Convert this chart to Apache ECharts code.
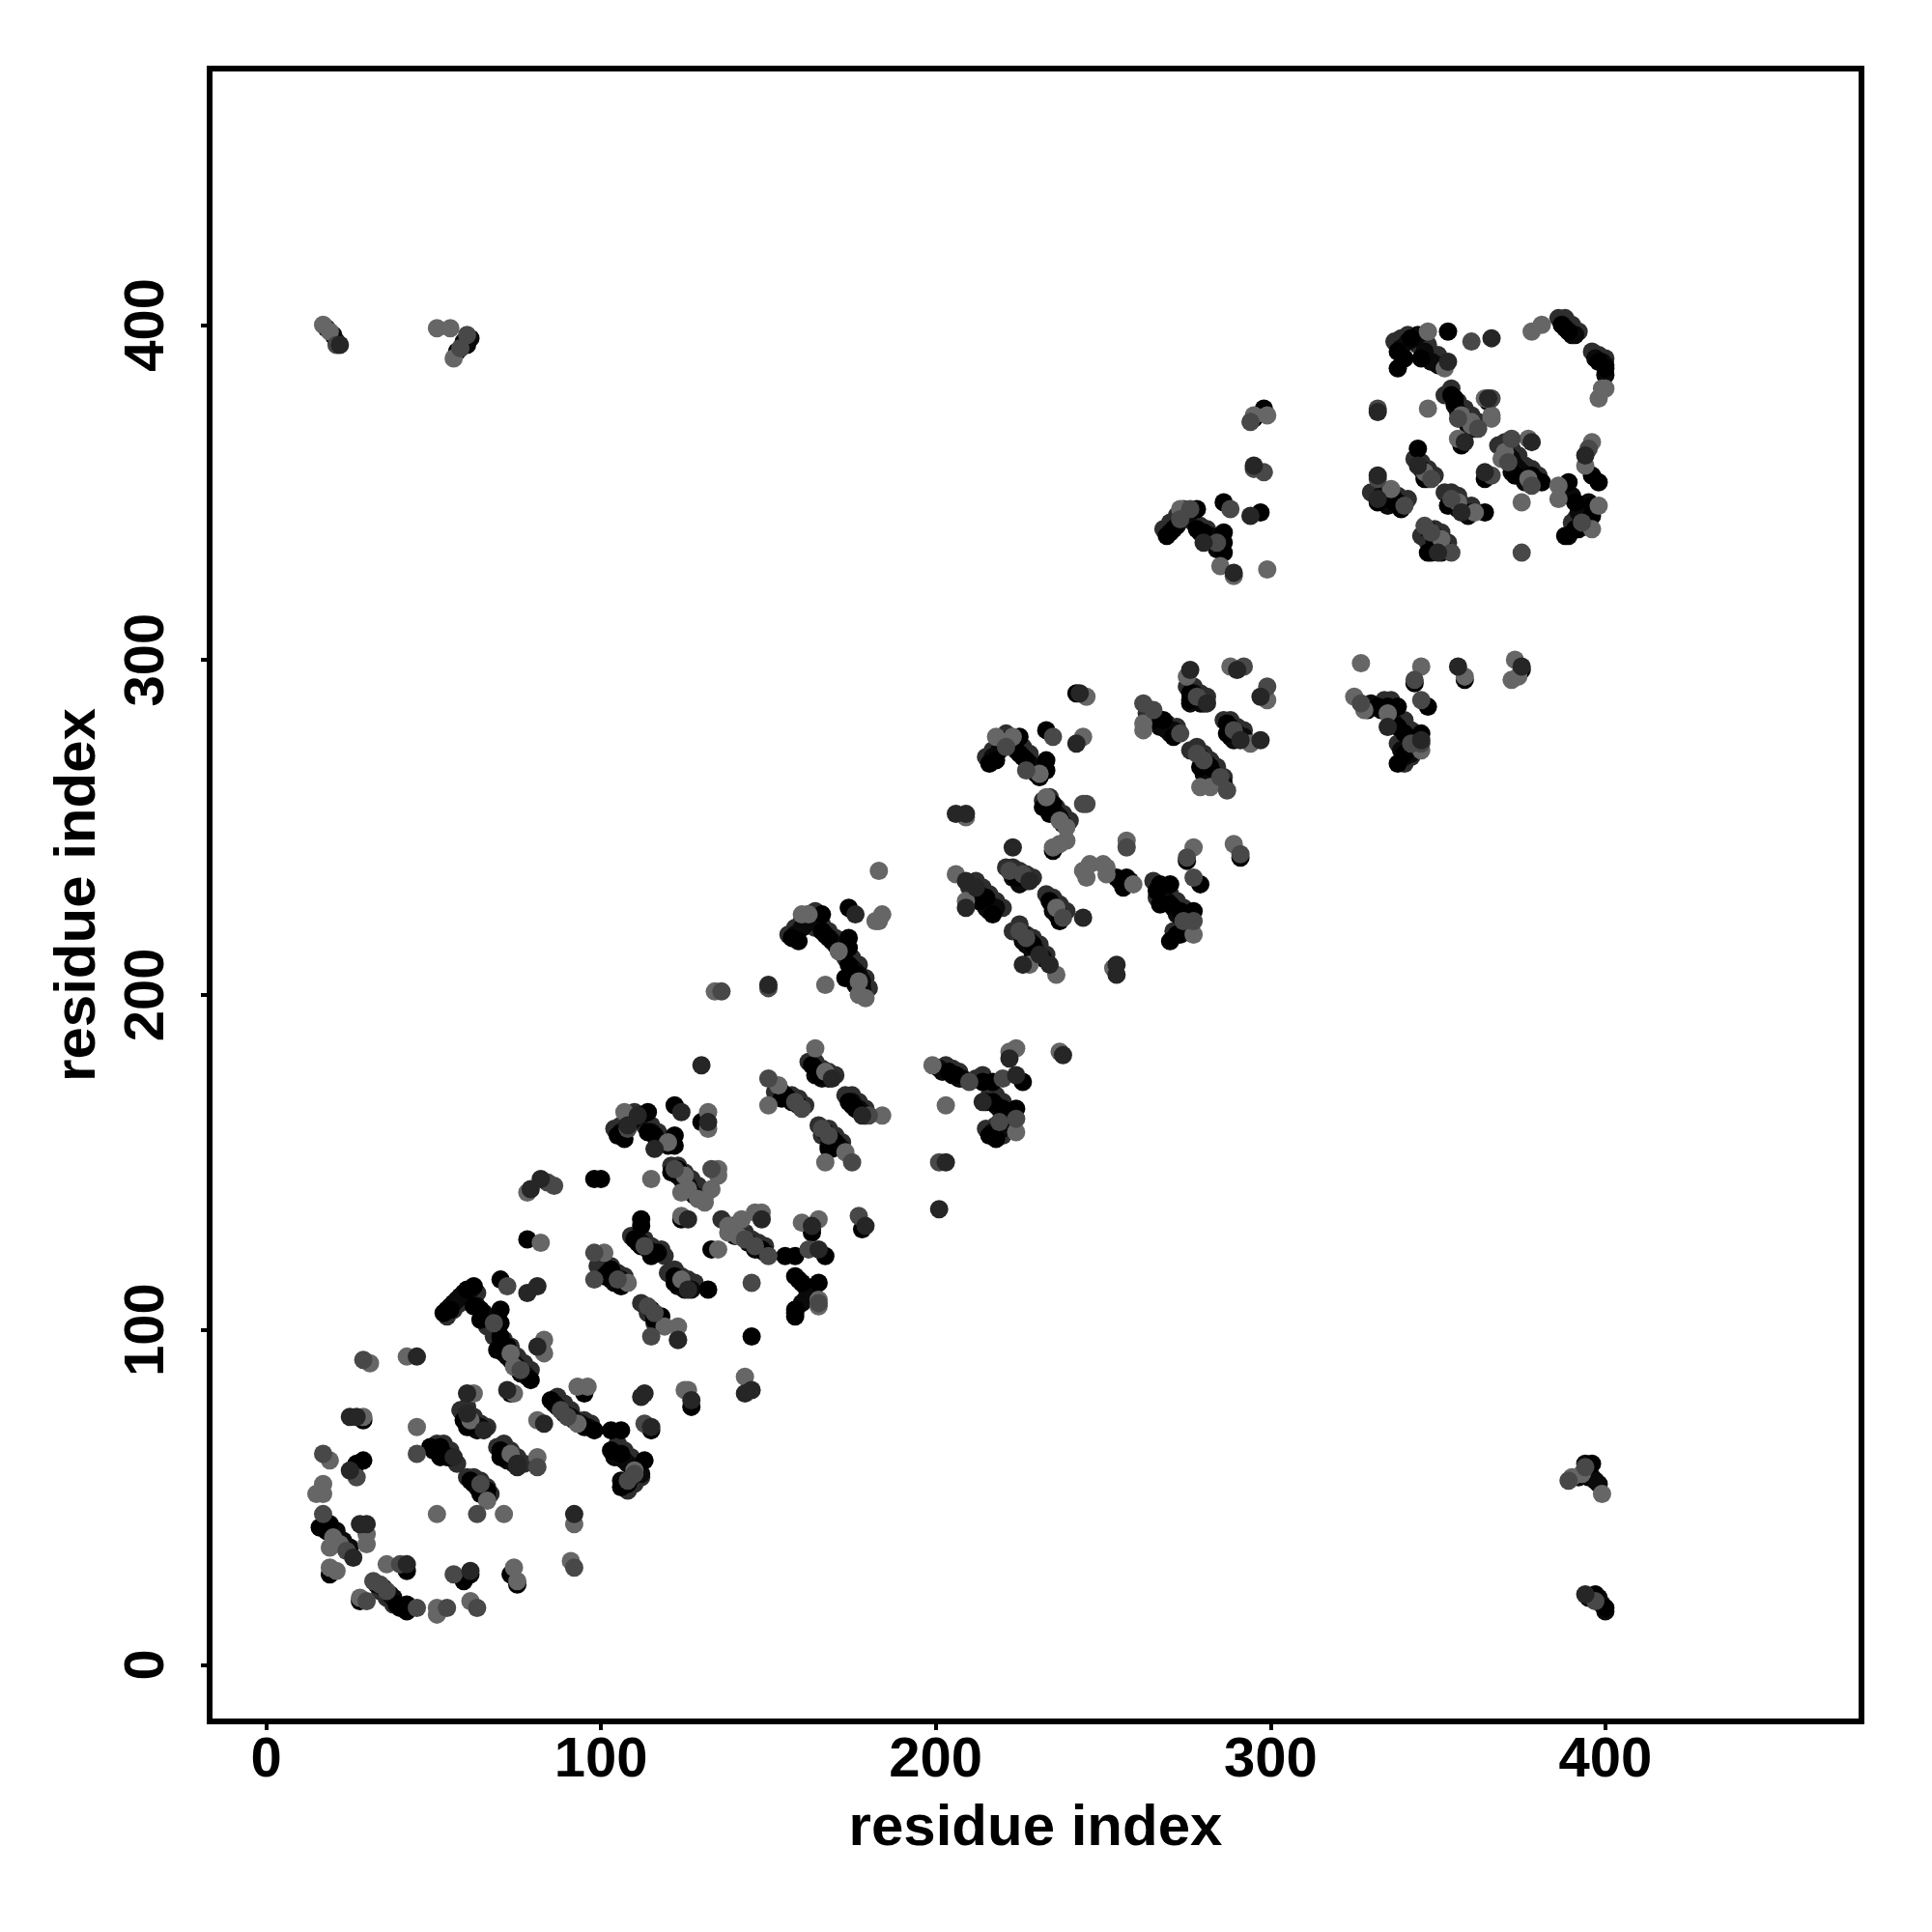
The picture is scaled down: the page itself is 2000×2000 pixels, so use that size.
<!DOCTYPE html>
<html><head><meta charset="utf-8"><style>html,body{margin:0;background:#fff}#c{width:2000px;height:2000px}</style>
<script src="https://cdn.jsdelivr.net/npm/echarts@6/dist/echarts.min.js"></script></head>
<body><div id="c"></div><script>
const tickValues=[0,100,200,300,400];
const stripeEdgePts=[[54,104],[56,106],[58,108],[60,109],[63,111],[66,104],[66,101],[68,98],[71,97],[73,95],[75,92],[77,90],[79,88],[87,80],[89,78],[91,76],[93,73],[95,73],[97,72],[105,66],[107,64],[109,62],[111,60],[108,52],[110,54],[112,56],[51,66],[53,66],[55,64],[57,60],[58,76],[60,77],[62,74],[64,72],[66,71],[69,65],[71,66],[73,64],[75,62],[77,60],[60,56],[62,56],[64,55],[66,53],[67,51],[38,18],[36,20],[34,22],
[104,160],[106,161],[108,163],[110,165],[113,163],[113,161],[115,161],[117,159],[119,157],[120,157],[121,149],[123,149],[125,147],[127,145],[129,143],[131,140],[136,133],[139,131],[141,130],[143,129],[145,127],[147,126],[149,125],[109,128],[111,128],[113,127],[115,125],[118,124],[119,122],[120,117],[122,118],[124,116],[126,115],[128,114],[99,119],[101,119],[103,119],[105,117],[107,116],[112,108],[114,105],[116,102],[118,102],[152,171],[154,171],[157,170],[159,169],[161,167],[162,180],[164,180],[166,178],[168,177],[170,176],[173,170],[175,170],[177,168],[179,166],[165,161],[166,158],[168,160],[170,158],[172,156],
[156,218],[158,220],[160,222],[162,224],[164,225],[164,220],[166,221],[168,219],[170,217],[172,215],[173,211],[175,211],[177,209],[179,205],[180,202],[203,179],[205,178],[207,177],[212,175],[214,176],[216,170],[218,170],[220,168],[222,165],[223,161],[215,160],[218,161],[220,158],
[215,271],[217,273],[219,275],[221,278],[223,274],[224,273],[226,274],[228,272],[230,268],[232,268],[232,258],[234,259],[236,256],[238,254],[240,252],[210,232],[212,234],[214,232],[216,230],[218,228],[220,226],[221,238],[223,238],[225,237],[227,236],[229,235],[233,230],[235,229],[237,227],[239,225],[223,219],[225,221],[227,218],[229,217],[231,215],[233,212],[265,234],[266,229],[268,231],[270,230],[272,228],[274,226],[276,223],[271,219],[273,220],[275,222],[263,284],[265,284],[267,282],[269,281],[272,280],[275,292],[277,292],[279,290],[281,289],[286,282],[288,282],[290,280],[292,279],[276,273],[278,274],[280,272],[282,270],[284,268],[286,265],
[268,339],[270,341],[272,343],[274,345],[277,341],[279,340],[281,339],[283,337],[352,379],[354,381],[356,377],[358,375],[360,373],[362,371],[343,360],[345,359],[347,357],[349,355],[330,350],[332,350],[334,350],[336,347],[338,349],[341,348],[352,350],[354,350],[356,349],[358,346],[360,346],[345,337],[347,335],[349,339],[351,338],[353,335],[368,364],[370,365],[372,363],[374,361],[376,358],[378,357],[380,355],[387,349],[389,349],[391,342],[393,346],[395,344],[390,341],[334,288],[336,288],[338,283],[340,282],[342,279],[344,277],[338,275],[340,269],[342,271],[344,273],[337,395],[339,396],[341,397],[344,394],[347,394],[350,391],[386,402],[388,402],[390,400],[392,398],[396,392],[398,391],[400,390]];
const stripePts=[[37,21],[38,20],[35,23],[33,24],[21,40],[23,37],[25,35],[50,64],[53,63],[55,62],[60,74],[62,72],[64,71],[61,71],[63,70],[71,63],[72,61],[74,60],[62,54],[63,53],[65,52],[66,50],[64,52],[54,106],[55,107],[56,108],[57,109],[58,110],[59,111],[60,111],[61,112],[63,107],[65,105],[70,96],[71,93],[72,92],[73,91],[75,89],[76,87],[77,87],[78,86],[74,90],[86,78],[87,77],[89,75],[91,74],[92,73],[94,72],[96,71],[104,62],[105,62],[107,61],[108,60],[106,55],[107,54],[109,56],[110,59],[111,58],[112,57],
[106,159],[108,161],[109,162],[110,163],[112,164],[115,159],[117,156],[118,156],[120,155],[123,146],[124,145],[125,144],[126,143],[127,141],[128,140],[139,129],[140,128],[144,126],[146,124],[147,124],[149,123],[159,115],[161,113],[162,112],[163,110],[160,108],[161,109],[162,110],[158,105],[111,126],[112,126],[114,124],[116,123],[123,115],[124,114],[125,113],[127,112],[123,113],[125,112],[102,117],[104,116],[106,115],[103,115],[104,114],[115,106],[117,104],[116,104],[156,169],[157,168],[159,167],[164,178],[165,177],[167,176],[168,175],[164,176],[166,175],[175,168],[177,166],[178,165],[167,159],[169,157],[170,155],[171,155],[172,154],[168,155],[169,154],
[158,218],[160,220],[161,221],[163,222],[164,223],[165,223],[167,218],[169,216],[170,215],[171,214],[175,208],[176,207],[177,206],[178,204],[178,202],[178,201],[176,203],[201,178],[202,177],[205,176],[207,175],[208,175],[215,168],[218,167],[219,166],[220,164],[221,163],[222,162],[217,159],[219,160],[220,160],[221,161],
[217,271],[219,273],[220,275],[221,276],[222,276],[224,276],[226,271],[228,269],[229,267],[230,266],[236,254],[237,253],[238,251],[234,257],[213,230],[214,229],[216,227],[218,226],[215,226],[216,225],[225,235],[226,235],[227,234],[223,235],[225,233],[235,226],[236,224],[237,224],[235,225],[226,218],[228,216],[229,214],[230,213],[232,211],[226,216],[227,215],[229,212],[255,234],[256,234],[258,234],[268,229],[269,228],[271,226],[272,224],[274,223],[275,220],[274,219],[273,218],[276,221],[266,281],[267,280],[269,279],[270,278],[271,279],[277,290],[278,288],[279,287],[280,287],[276,287],[288,280],[290,278],[292,277],[288,277],[289,276],[279,271],[281,269],[282,267],[283,266],[284,265],[286,263],[280,266],[281,265],
[270,338],[272,340],[274,342],[275,343],[276,344],[279,338],[282,337],[284,333],[355,376],[356,374],[358,372],[359,370],[361,369],[345,357],[346,355],[347,354],[333,349],[334,348],[336,349],[337,348],[338,347],[335,346],[355,346],[356,345],[358,344],[359,343],[360,344],[347,339],[349,337],[350,336],[351,334],[348,332],[351,332],[352,333],[371,361],[372,360],[373,358],[374,357],[375,356],[376,355],[379,354],[372,356],[376,353],[390,349],[392,344],[393,343],[394,341],[392,339],[389,337],[394,344],[395,347],[336,283],[337,281],[341,277],[342,276],[343,275],[339,273],[340,271],[341,274],[342,272],[329,285],[330,287],[333,285],[339,393],[341,395],[343,396],[344,397],[346,392],[348,389],[350,388],[388,399],[390,397],[391,397],[397,390],[399,389],[400,385],[400,388],[18,399],[20,397],[21,395],[57,392],[59,395],[60,394],[61,396],[394,60],[395,56],[396,56],[397,55],[398,54],[398,20],[399,18],[400,16],[395,20],[392,56]];
const blackPts=[[28,19],[42,18],[42,16],[39,18],[40,17],[19,42],[16,41],[18,40],[19,27],[27,60],[29,61],[61,27],[59,25],[73,81],[29,73],[42,28],[73,27],[75,24],[49,65],[52,65],[52,62],[54,62],[60,71],[59,73],[70,64],[70,62],[61,55],[66,52],[64,51],[53,105],[55,106],[62,113],[60,112],[62,107],[64,106],[64,103],[70,106],[70,102],[70,98],[69,94],[72,95],[79,85],[70,115],[85,79],[95,71],[98,70],[103,70],[106,70],[103,64],[106,63],[113,61],[106,53],[108,54],[115,70],[127,77],[95,81],
[163,179],[165,176],[155,170],[154,169],[174,168],[176,166],[170,156],[168,154],[114,165],[105,158],[107,157],[114,159],[116,158],[122,158],[122,155],[122,167],[130,162],[123,148],[121,147],[98,145],[100,145],[112,133],[112,131],[124,133],[148,124],[155,122],[158,122],[158,116],[160,114],[165,114],[158,106],[158,104],[163,130],[167,122],[178,130],[133,124],[132,112],[122,116],[122,114],[103,118],[101,116],[106,113],[78,127],[118,104],[116,103],[145,98],[110,127],[117,123],[115,122],[112,125],
[166,224],[157,217],[159,216],[166,219],[168,217],[174,217],[174,214],[174,226],[174,209],[176,206],[173,205],[204,177],[206,176],[214,174],[217,174],[217,168],[220,166],[224,166],[216,158],[218,157],[226,174],[179,164],[175,167],[163,129],
[225,277],[216,269],[218,270],[225,272],[227,270],[233,270],[233,267],[231,265],[233,279],[242,290],[235,257],[232,256],[234,254],[235,243],[215,229],[213,228],[217,224],[224,235],[234,228],[237,222],[229,215],[254,235],[257,235],[256,232],[270,233],[267,233],[266,231],[267,227],[270,227],[273,225],[277,225],[270,216],[272,218],[279,233],[268,282],[265,282],[271,277],[276,290],[276,288],[287,281],[287,278],[282,268],[279,268],[275,240],[291,241],
[298,375],[295,372],[297,344],[286,347],[278,345],[269,337],[271,339],[278,339],[280,338],[286,338],[286,335],[286,332],[354,379],[355,378],[357,364],[344,363],[346,354],[332,347],[337,347],[339,345],[353,346],[364,344],[349,335],[347,332],[364,354],[373,355],[378,355],[381,353],[389,353],[391,347],[396,346],[396,343],[388,337],[391,339],[396,355],[398,353],[358,294],[375,297],[332,286],[338,286],[335,286],[334,285],[338,280],[340,278],[345,278],[347,286],[338,269],[340,272],[343,293],
[338,392],[342,396],[340,390],[345,390],[353,398],[338,387],[398,389],[400,387],[387,400],[389,398],[355,377],[357,372],[365,377],[397,21],[400,17],[396,60]];
const grayPts=[[31,90],[42,92],[62,81],[74,81],[81,73],[29,74],[45,71],[51,45],[71,45],[92,42],[91,31],[74,29],[75,25],[61,19],[51,17],[51,15],[36,30],[28,20],[20,38],[22,36],[19,35],[30,36],[30,39],[19,29],[21,28],[17,54],[15,51],[17,51],[19,61],[61,73],[73,63],[81,62],[66,49],[73,93],[74,89],[83,97],[83,93],[93,83],[110,58],[93,72],[126,82],[96,83],
[134,201],[167,203],[164,184],[167,177],[153,173],[150,167],[173,153],[167,150],[107,165],[120,156],[132,165],[132,160],[135,148],[135,146],[125,146],[126,142],[129,139],[131,138],[133,142],[124,141],[115,145],[78,141],[124,134],[148,135],[146,135],[142,133],[138,131],[138,129],[141,128],[165,107],[165,109],[160,132],[165,133],[135,124],[124,115],[101,123],[108,114],[82,126],[119,101],[123,101],[125,82],[143,86],
[162,224],[160,224],[183,237],[179,199],[177,200],[177,204],[171,213],[182,222],[184,224],[183,222],[222,183],[224,184],[184,164],[203,167],[199,179],[224,159],[237,183],
[218,277],[223,277],[245,289],[231,266],[244,277],[233,259],[237,252],[239,250],[239,246],[235,244],[237,245],[209,253],[206,236],[209,228],[236,226],[228,209],[236,206],[253,208],[257,246],[245,235],[244,237],[246,239],[250,239],[251,238],[251,236],[259,233],[277,244],[289,245],[277,218],[262,279],[262,281],[299,288],[288,298],[294,275],[279,262],[282,262],[275,295],
[299,373],[295,373],[299,327],[273,345],[285,328],[289,325],[347,375],[357,373],[360,371],[356,366],[364,378],[366,372],[336,351],[346,356],[356,347],[361,344],[351,336],[375,347],[377,366],[370,362],[369,360],[377,354],[386,352],[386,348],[398,346],[396,339],[396,365],[394,358],[398,378],[400,381],[327,299],[345,298],[358,295],[373,300],[372,294],[374,295],[325,289],[328,285],[335,284],[345,273],[347,398],[352,387],[378,398],[381,400],[399,381],[360,370],[366,373],[17,400],[19,398],[51,399],[55,399],[56,390],[390,56],[399,51],[393,57]];
const midPts=[[29,91],[45,63],[17,63],[63,45],[92,29],[56,27],[63,17],[54,17],[45,17],[32,25],[34,24],[36,22],[40,30],[17,45],[24,34],[30,19],[27,56],[64,54],[68,102],[76,88],[88,76],[90,74],[108,55],[110,57],[81,59],[113,72],
[136,201],[150,202],[150,175],[158,168],[160,166],[166,160],[168,158],[175,150],[108,160],[133,148],[122,148],[162,124],[145,114],[165,108],[98,123],[98,115],[105,115],[72,113],[114,107],[116,105],[115,98],[123,97],[84,144],[86,143],[143,127],[146,125],[150,122],[113,125],[177,134],
[210,174],[224,163],[219,162],[201,150],[180,164],[220,175],
[221,274],[227,267],[235,277],[222,237],[226,236],[238,223],[225,219],[227,217],[245,257],[244,257],[257,244],[275,241],[291,242],[277,235],[277,222],[274,222],[262,287],[265,285],[273,278],[278,289],[292,298],[299,292],[289,279],[278,272],[280,270],[285,265],[287,261],
[294,371],[295,357],[298,356],[288,345],[276,345],[273,342],[284,335],[362,369],[366,378],[346,340],[348,338],[354,332],[332,354],[340,346],[354,348],[366,355],[372,366],[371,359],[378,352],[393,341],[395,363],[375,332],[343,294],[327,287],[345,288],[345,275],[342,275],[348,354],[332,375],[360,395],[356,372],[397,19],[21,394],[60,397],[58,393],[394,59],[389,55]];
const darkPts=[[45,92],[60,81],[72,82],[83,72],[25,74],[27,74],[92,45],[61,28],[26,32],[28,42],[30,42],[25,58],[56,62],[60,75],[65,70],[75,60],[75,59],[78,111],[81,113],[81,95],[112,80],[113,81],[127,79],[115,71],[42,30],
[150,203],[169,175],[178,164],[130,179],[111,164],[108,161],[116,154],[124,165],[132,162],[79,142],[82,145],[126,133],[148,133],[163,131],[165,124],[179,131],[126,112],[123,97],[145,82],[143,81],
[176,224],[203,150],[201,136],[238,182],[214,168],[222,181],[224,176],
[242,275],[243,290],[206,254],[209,254],[223,244],[209,234],[212,232],[209,226],[228,234],[244,223],[231,212],[234,209],[226,209],[254,209],[254,206],[276,297],[281,287],[290,297],[297,289],[291,276],[297,276],
[295,358],[294,343],[280,335],[289,326],[357,344],[365,378],[344,358],[332,348],[358,365],[332,355],[364,356],[378,365],[394,361],[350,332],[375,298],[356,298],[335,280],[345,276],[366,396],[332,374],[353,389],[394,21],[22,394]];
const shades=['#2e2e2e','#0a0a0a','#000000','#666666','#484848','#262626'];
const seriesData=[stripeEdgePts,stripePts,blackPts,grayPts,midPts,darkPts];
const font='"Liberation Sans",Helvetica,Arial,sans-serif';
function axis(extra){return Object.assign({type:'value',min:-16.9,max:476.5,
  name:'residue index',nameLocation:'middle',
  nameTextStyle:{fontFamily:font,fontWeight:'bold',fontSize:60,color:'#000'},
  splitLine:{show:false},
  axisLine:{show:false,onZero:false},
  axisTick:{show:true,length:9,lineStyle:{color:'#000',width:4},customValues:tickValues}},extra);}
const chart=echarts.init(document.getElementById('c'),null,{renderer:'canvas'});
chart.setOption({animation:false,backgroundColor:'#fff',
  grid:{show:true,left:217,right:73,top:71,bottom:218,borderColor:'#000',borderWidth:6,backgroundColor:'transparent'},
  xAxis:axis({nameGap:81,axisLabel:{customValues:tickValues,fontFamily:font,fontWeight:'bold',fontSize:58,color:'#000',margin:12}}),
  yAxis:axis({nameGap:106,axisLabel:{customValues:tickValues,rotate:90,fontFamily:font,fontWeight:'bold',fontSize:58,color:'#000',margin:35,align:'center',verticalAlign:'bottom'}}),
  series:seriesData.map((d,i)=>({type:'scatter',data:d,symbol:'circle',symbolSize:19,silent:true,itemStyle:{color:shades[i],opacity:1},z:2+i}))
});
</script></body></html>
